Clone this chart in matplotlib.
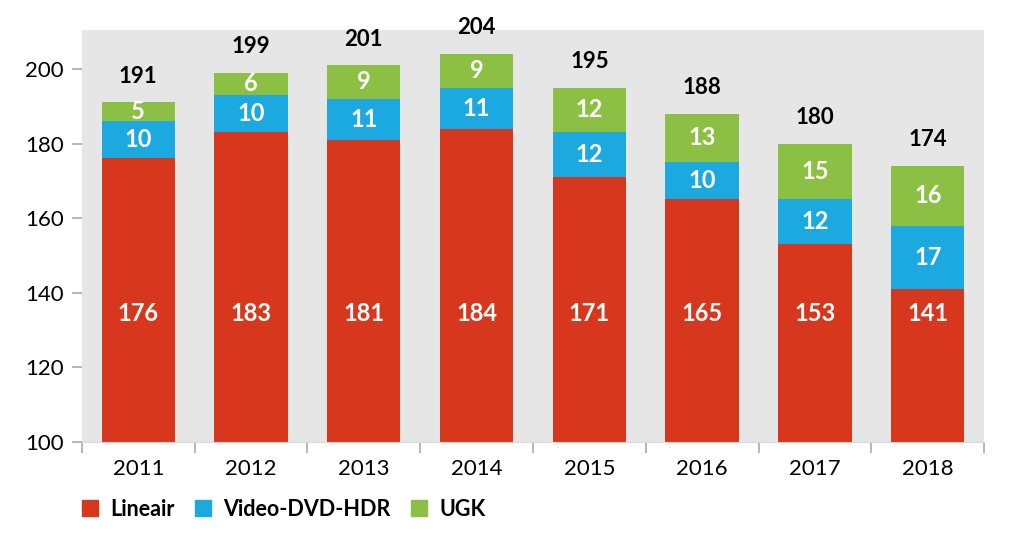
import numpy as np
import matplotlib.pyplot as plt
from matplotlib.patches import Patch

plt.rcParams['font.family'] = ['Lato', 'DejaVu Sans']

jaren = ['2011', '2012', '2013', '2014', '2015', '2016', '2017', '2018']
lineair = [176, 183, 181, 184, 171, 165, 153, 141]
video = [10, 10, 11, 11, 12, 10, 12, 17]
ugk = [5, 6, 9, 9, 12, 13, 15, 16]
totaal = [191, 199, 201, 204, 195, 188, 180, 174]

rood = '#D7381D'
blauw = '#1CA9E0'
groen = '#8CC044'

fig = plt.figure(figsize=(10.24, 5.51), dpi=100)
ax = fig.add_axes([0.080, 0.198, 0.881, 0.748])
ax.set_facecolor('#E6E6E6')

x = np.arange(len(jaren))
w = 0.65
lin = np.array(lineair)
vid = np.array(video)
ax.bar(x, lin - 100, bottom=100, width=w, color=rood)
ax.bar(x, vid, bottom=lin, width=w, color=blauw)
ax.bar(x, ugk, bottom=lin + vid, width=w, color=groen)

# waarden in de balken
for i in x:
    ax.text(i, 134.3, str(lineair[i]), ha='center', va='center',
            color='white', fontsize=17, fontweight='bold')
    ax.text(i, lineair[i] + video[i] / 2, str(video[i]), ha='center', va='center',
            color='white', fontsize=17, fontweight='bold')
    ax.text(i, lineair[i] + video[i] + ugk[i] / 2, str(ugk[i]), ha='center', va='center',
            color='white', fontsize=17, fontweight='bold')
    ax.text(i, totaal[i] + 7, str(totaal[i]), ha='center', va='center',
            color='black', fontsize=16, fontweight='bold')

ax.set_xlim(-0.5, 7.5)
ax.set_ylim(100, 210.5)
ax.set_yticks([100, 120, 140, 160, 180, 200])
ax.set_xticks(x)
ax.set_xticklabels(jaren)
ax.set_xticks(np.arange(-0.5, 8, 1), minor=True)
ax.tick_params(axis='x', which='major', length=0, pad=12, labelsize=16)
ax.tick_params(axis='x', which='minor', length=8, color='#AAAAAA', width=1.2)
ax.tick_params(axis='y', length=7, color='#AAAAAA', width=1.2, pad=6, labelsize=16)
for s in ['top', 'right', 'left']:
    ax.spines[s].set_visible(False)
ax.spines['bottom'].set_color('#D9D9D9')

handles = [Patch(color=rood, label='Lineair'),
           Patch(color=blauw, label='Video-DVD-HDR'),
           Patch(color=groen, label='UGK')]
leg = fig.legend(handles=handles, loc='lower left', bbox_to_anchor=(0.080, 0.057), ncol=3,
                 frameon=False, handlelength=0.75, handleheight=0.8, columnspacing=0.95,
                 handletextpad=0.56, borderpad=0, borderaxespad=0,
                 prop={'size': 15.5, 'weight': 'bold'})

fig.savefig('out.png', dpi=100)
